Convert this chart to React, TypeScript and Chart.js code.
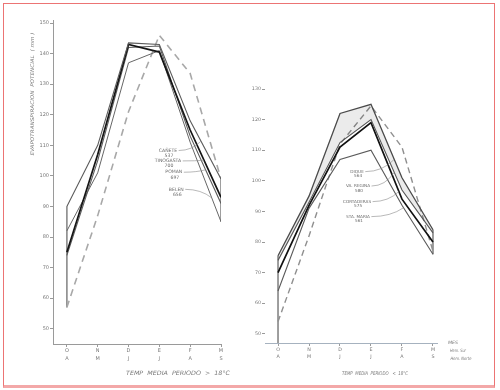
import { useEffect, useRef } from 'react';
import { Chart, registerables } from 'chart.js';

Chart.register(...registerables);

// ---- categories (months: southern hemisphere row / northern hemisphere row)
const MONTHS_SOUTH = ['O', 'N', 'D', 'E', 'F', 'M'];
const MONTHS_NORTH = ['A', 'M', 'J', 'J', 'A', 'S'];

// ---- tick labels
const LEFT_Y_TICKS = [50, 60, 70, 80, 90, 100, 110, 120, 130, 140, 150];
const RIGHT_Y_TICKS = [50, 60, 70, 80, 90, 100, 110, 120, 130];

// ---- left panel (TEMP MEDIA PERIODO > 18°C)
const LEFT_NAMES = ['CAÑETE', 'TINOGASTA', 'POMAN', 'BELEN'];
const LEFT_CODES = ['537', '700', '697', '656'];
const leftCanete = [90, 110, 143.5, 143, 118, 99];
const leftTinogasta = [75, 107, 143, 140.5, 115, 93];
const leftPoman = [74, 105, 142, 142.5, 113, 91];
const leftBelen = [82, 101, 137, 141, 111, 85];
const leftReference = [57, 87, 121, 146, 133.5, 99];

// ---- right panel (TEMP MEDIA PERIODO < 18°C)
const RIGHT_NAMES = ['DIQUE', 'VA. REGINA', 'CORTADERAS', 'STA. MARIA'];
const RIGHT_CODES = ['564', '580', '575', '561'];
const rightDique = [75.5, 95, 122, 125, 101, 84];
const rightRegina = [74, 93, 112.5, 120, 97, 83];
const rightCortaderas = [70, 92, 111, 119, 94, 80];
const rightSantaMaria = [64, 91, 107, 110, 92, 76];
const rightReference = [54, 82, 112, 124.5, 111, 77];

const FONT = '"DejaVu Sans", "Liberation Sans", sans-serif';

const pts = (arr: number[]) => arr.map((y, i) => ({ x: i, y }));
const vseg = (i: number, top: number, bottom: number) => [
  { x: i, y: top },
  { x: i, y: bottom },
];
const colAt = (series: number[][], i: number) => series.map((s) => s[i]);

function interp(arr: number[], xv: number) {
  const i = Math.min(Math.floor(xv), arr.length - 2);
  const t = xv - i;
  return arr[i] + (arr[i + 1] - arr[i]) * t;
}

function fitText(
  ctx: CanvasRenderingContext2D,
  text: string,
  cx: number,
  cy: number,
  width: number,
  size: number,
  italic: boolean,
  rot = 0
) {
  ctx.save();
  ctx.translate(cx, cy);
  ctx.rotate(rot);
  ctx.font = `${italic ? 'italic ' : ''}${size}px ${FONT}`;
  const w = ctx.measureText(text).width;
  ctx.scale(width / w, 1);
  ctx.textAlign = 'center';
  ctx.textBaseline = 'middle';
  ctx.fillText(text, 0, 0);
  ctx.restore();
}

type LabelSpec = { name: string; code: string; x: number; y: number; series: number[]; tx: number };
type TextSpec = { text: string; cx: number; cy: number; width: number; size: number; italic: boolean; rot?: number };

function annotationPlugin(labels: LabelSpec[], texts: TextSpec[], labelSize: number) {
  return {
    id: 'annot',
    afterDatasetsDraw(chart: any) {
      const ctx: CanvasRenderingContext2D = chart.ctx;
      const xs = chart.scales.x;
      const ys = chart.scales.y;
      ctx.save();
      ctx.fillStyle = '#6a6a6a';
      ctx.strokeStyle = '#8a8a8a';
      ctx.lineWidth = 0.6;
      labels.forEach((l) => {
        const px = xs.getPixelForValue(l.x);
        const py = ys.getPixelForValue(l.y);
        ctx.font = `${labelSize}px ${FONT}`;
        ctx.textAlign = 'center';
        ctx.textBaseline = 'middle';
        ctx.fillText(l.name, px, py);
        ctx.fillText(l.code, px + 1, py + labelSize + 0.5);
        const w = ctx.measureText(l.name).width;
        const tv = interp(l.series, l.tx);
        const tx = xs.getPixelForValue(l.tx);
        const ty = ys.getPixelForValue(tv);
        const sx = px + w / 2 + 1.5;
        ctx.beginPath();
        ctx.moveTo(sx, py);
        ctx.quadraticCurveTo(sx + (tx - sx) * 0.6, py, tx, ty);
        ctx.stroke();
      });
      ctx.fillStyle = '#7a7a7a';
      texts.forEach((t) => fitText(ctx, t.text, t.cx, t.cy, t.width, t.size, t.italic, t.rot || 0));
      ctx.restore();
    },
  };
}

type PanelSpec = {
  datasets: any[];
  xMin: number;
  xMax: number;
  yMin: number;
  yMax: number;
  yTicks: number[];
  yWidth: number;
  xHeight: number;
  padding: { left: number; right: number; top: number; bottom: number };
  yBorder: boolean;
  xBorderColor: string;
  tickSize: number;
  plugin: any;
};

function buildChart(canvas: HTMLCanvasElement, spec: PanelSpec) {
  return new Chart(canvas, {
    type: 'line',
    data: { datasets: spec.datasets },
    options: {
      animation: false,
      responsive: false,
      events: [],
      layout: { padding: spec.padding },
      plugins: {
        legend: { display: false },
        tooltip: { enabled: false },
        title: { display: false },
      },
      elements: { point: { radius: 0 }, line: { tension: 0 } },
      scales: {
        x: {
          type: 'linear',
          min: spec.xMin,
          max: spec.xMax,
          afterBuildTicks: (s: any) => {
            s.ticks = MONTHS_SOUTH.map((_, i) => ({ value: i }));
          },
          afterFit: (s: any) => {
            s.height = spec.xHeight;
          },
          ticks: {
            autoSkip: false,
            maxRotation: 0,
            padding: 0,
            color: '#777',
            font: { family: FONT, size: spec.tickSize, lineHeight: 1.55 },
            callback: (v: any) => {
              const i = Math.round(Number(v));
              return [MONTHS_SOUTH[i], MONTHS_NORTH[i]];
            },
          },
          grid: { display: true, drawOnChartArea: false, tickLength: 3, color: '#9a9a9a' },
          border: { display: true, color: spec.xBorderColor, width: 1 },
        },
        y: {
          type: 'linear',
          min: spec.yMin,
          max: spec.yMax,
          afterBuildTicks: (s: any) => {
            s.ticks = spec.yTicks.map((v) => ({ value: v }));
          },
          afterFit: (s: any) => {
            s.width = spec.yWidth;
          },
          ticks: {
            padding: 1,
            color: '#777',
            font: { family: FONT, size: spec.tickSize },
            callback: (v: any) => String(v),
          },
          grid: { display: true, drawOnChartArea: false, tickLength: 3, color: '#9a9a9a' },
          border: { display: spec.yBorder, color: '#9a9a9a', width: 1 },
        },
      },
    } as any,
    plugins: [spec.plugin],
  });
}

const solid = (data: number[], color: string, width: number, extra: any = {}) => ({
  data: pts(data),
  borderColor: color,
  borderWidth: width,
  fill: false,
  ...extra,
});

export default function App() {
  const leftRef = useRef<HTMLCanvasElement>(null);
  const rightRef = useRef<HTMLCanvasElement>(null);

  useEffect(() => {
    document.body.style.margin = '0';
    const leftSeries = [leftCanete, leftTinogasta, leftPoman, leftBelen];
    const leftAll = [...leftSeries, leftReference];
    const lastL = MONTHS_SOUTH.length - 1;
    const leftDatasets = [
      solid(leftCanete, '#5c5c5c', 1.1),
      solid(leftTinogasta, '#151515', 1.7),
      solid(leftPoman, '#5c5c5c', 1.1),
      solid(leftBelen, '#666', 1.0),
      solid(leftReference, '#a8a8a8', 1.6, { borderDash: [7, 5] }),
      {
        data: vseg(0, Math.max(...colAt(leftAll, 0)), Math.min(...colAt(leftAll, 0))),
        borderColor: '#8a8a8a',
        borderWidth: 0.9,
        fill: false,
      },
      {
        data: vseg(lastL, Math.max(...colAt(leftAll, lastL)), Math.min(...colAt(leftAll, lastL))),
        borderColor: '#8a8a8a',
        borderWidth: 0.9,
        fill: false,
      },
    ];

    const leftLabels: LabelSpec[] = [
      { name: LEFT_NAMES[0], code: LEFT_CODES[0], x: 3.28, y: 108.3, series: leftCanete, tx: 4.35 },
      { name: LEFT_NAMES[1], code: LEFT_CODES[1], x: 3.28, y: 104.9, series: leftTinogasta, tx: 4.45 },
      { name: LEFT_NAMES[2], code: LEFT_CODES[2], x: 3.47, y: 101.2, series: leftPoman, tx: 4.5 },
      { name: LEFT_NAMES[3], code: LEFT_CODES[3], x: 3.55, y: 95.6, series: leftBelen, tx: 4.7 },
    ];
    const leftTexts: TextSpec[] = [
      { text: 'EVAPOTRANSPIRACION  POTENCIAL  ( mm )', cx: 33, cy: 94, width: 123, size: 5, italic: true, rot: -Math.PI / 2 },
      { text: 'TEMP  MEDIA  PERIODO  >  18°C', cx: 178, cy: 373, width: 104, size: 6, italic: true },
    ];

    const rightSeries = [rightDique, rightRegina, rightCortaderas, rightSantaMaria];
    const rightAll = [...rightSeries, rightReference];
    const rightDatasets = [
      solid(rightDique, '#4a4a4a', 1.3, { fill: '+1', backgroundColor: 'rgba(0,0,0,0.08)' }),
      solid(rightRegina, '#5a5a5a', 1.1),
      solid(rightCortaderas, '#111', 1.7),
      solid(rightSantaMaria, '#5a5a5a', 1.1),
      solid(rightReference, '#8f8f8f', 1.4, { borderDash: [6, 4] }),
      {
        data: vseg(0, Math.max(...colAt(rightSeries, 0)), RIGHT_Y_TICKS[0] - 3),
        borderColor: '#8a8a8a',
        borderWidth: 0.9,
        fill: false,
      },
      {
        data: vseg(lastL, Math.max(...colAt(rightAll, lastL)), Math.min(...colAt(rightAll, lastL))),
        borderColor: '#8a8a8a',
        borderWidth: 0.9,
        fill: false,
      },
    ];
    const rightLabels: LabelSpec[] = [
      { name: RIGHT_NAMES[0], code: RIGHT_CODES[0], x: 2.55, y: 103, series: rightDique, tx: 3.75 },
      { name: RIGHT_NAMES[1], code: RIGHT_CODES[1], x: 2.58, y: 98.3, series: rightRegina, tx: 3.75 },
      { name: RIGHT_NAMES[2], code: RIGHT_CODES[2], x: 2.55, y: 93.2, series: rightCortaderas, tx: 3.9 },
      { name: RIGHT_NAMES[3], code: RIGHT_CODES[3], x: 2.58, y: 88.3, series: rightSantaMaria, tx: 4.05 },
    ];
    const rightTexts: TextSpec[] = [
      { text: 'TEMP  MEDIA  PERIODO   <  18°C', cx: 125, cy: 374, width: 66, size: 5, italic: true },
      { text: 'MES', cx: 203, cy: 343, width: 10, size: 4.5, italic: true },
      { text: 'Hem. Sur', cx: 208, cy: 351, width: 16, size: 4.5, italic: true },
      { text: 'Hem. Norte', cx: 211, cy: 359, width: 21, size: 4.5, italic: true },
    ];

    const left = buildChart(leftRef.current as HTMLCanvasElement, {
      datasets: leftDatasets,
      xMin: -0.45,
      xMax: 5,
      yMin: 45,
      yMax: 151,
      yTicks: LEFT_Y_TICKS,
      yWidth: 53,
      xHeight: 46,
      padding: { left: 0, right: 29, top: 20, bottom: 0 },
      yBorder: true,
      xBorderColor: '#9a9a9a',
      tickSize: 5,
      plugin: annotationPlugin(leftLabels, leftTexts, 4.6),
    });
    const right = buildChart(rightRef.current as HTMLCanvasElement, {
      datasets: rightDatasets,
      xMin: -0.42,
      xMax: 5.13,
      yMin: 47,
      yMax: 133.6,
      yTicks: RIGHT_Y_TICKS,
      yWidth: 15,
      xHeight: 47,
      padding: { left: 0, right: 63, top: 78, bottom: 0 },
      yBorder: false,
      xBorderColor: '#a6b2bf',
      tickSize: 4.8,
      plugin: annotationPlugin(rightLabels, rightTexts, 4.2),
    });
    return () => {
      left.destroy();
      right.destroy();
    };
  }, []);

  return (
    <div
      style={{
        position: 'fixed',
        left: 0,
        top: 0,
        width: 500,
        height: 390,
        background: '#fff',
        overflow: 'hidden',
      }}
    >
      <canvas ref={leftRef} width={250} height={390} style={{ position: 'absolute', left: 0, top: 0 }} />
      <canvas ref={rightRef} width={250} height={390} style={{ position: 'absolute', left: 250, top: 0 }} />
      <div
        style={{
          position: 'absolute',
          left: 3,
          top: 3,
          width: 490,
          height: 381,
          borderTop: '1px solid #ec7474',
          borderLeft: '1px solid #ec7474',
          borderRight: '1px solid #ec7474',
          borderBottom: '3px solid #f3a8a8',
          pointerEvents: 'none',
        }}
      />
    </div>
  );
}
